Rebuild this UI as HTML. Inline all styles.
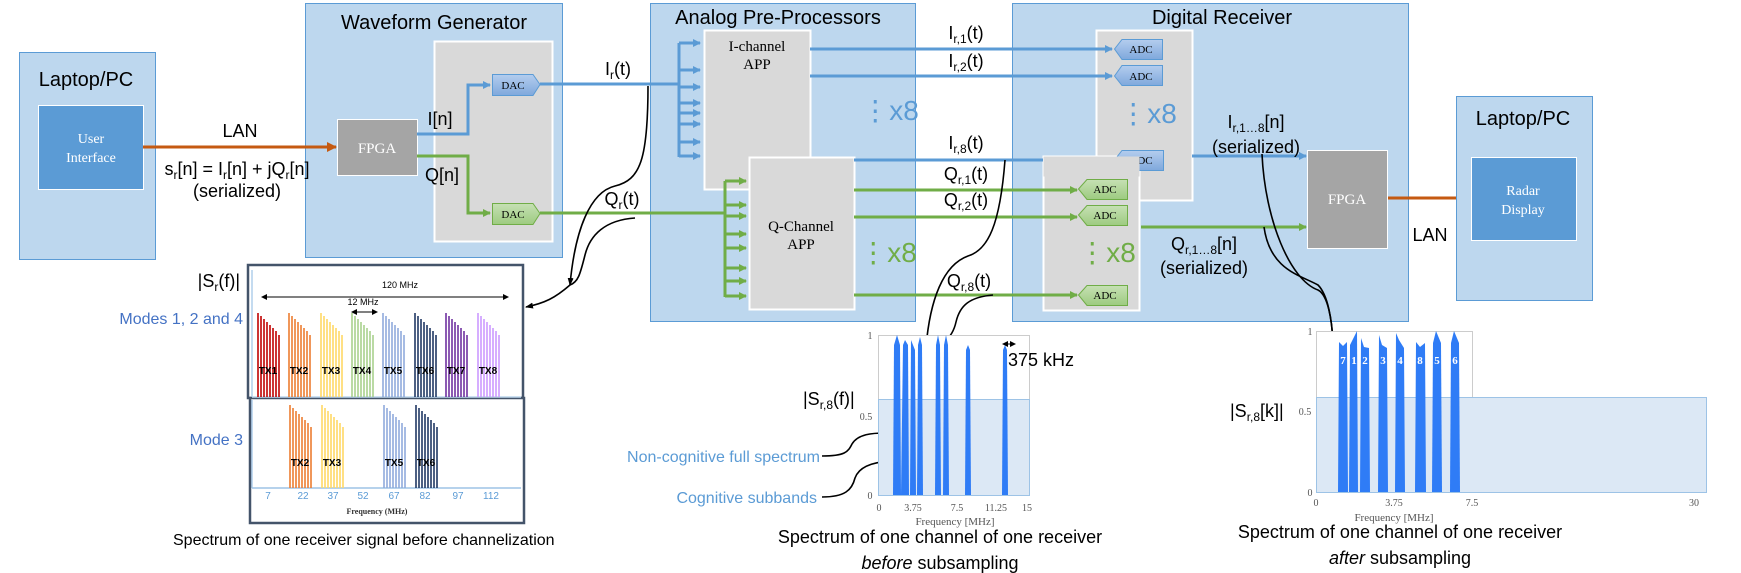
<!DOCTYPE html>
<html><head><meta charset="utf-8"><style>
html,body{margin:0;padding:0;background:#fff}
svg{display:block}
text{font-family:"Liberation Sans",sans-serif}
.s,.s text,text.s{font-family:"Liberation Serif",serif}
</style></head><body>
<svg width="1741" height="573" viewBox="0 0 1741 573" xmlns="http://www.w3.org/2000/svg">
<defs>
<marker id="ab" markerWidth="8" markerHeight="8" refX="7" refY="4" orient="auto" markerUnits="userSpaceOnUse"><path d="M0,0 L8,4 L0,8 z" fill="#5b9bd5"/></marker>
<marker id="ag" markerWidth="8" markerHeight="8" refX="7" refY="4" orient="auto" markerUnits="userSpaceOnUse"><path d="M0,0 L8,4 L0,8 z" fill="#70ad47"/></marker>
<marker id="ao" markerWidth="10" markerHeight="10" refX="9" refY="5" orient="auto" markerUnits="userSpaceOnUse"><path d="M0,0 L10,5 L0,10 z" fill="#c55a11"/></marker>
<marker id="ak" markerWidth="8" markerHeight="8" refX="7" refY="4" orient="auto" markerUnits="userSpaceOnUse"><path d="M0,1 L8,4 L0,7 z" fill="#000"/></marker>
<marker id="akk" markerWidth="6" markerHeight="6" refX="5" refY="3" orient="auto-start-reverse" markerUnits="userSpaceOnUse"><path d="M0,0 L6,3 L0,6 z" fill="#000"/></marker>
<linearGradient id="gb" x1="0" y1="0" x2="0" y2="1"><stop offset="0" stop-color="#b4cdee"/><stop offset="1" stop-color="#7fa8dc"/></linearGradient>
<linearGradient id="gg" x1="0" y1="0" x2="0" y2="1"><stop offset="0" stop-color="#c6e0b4"/><stop offset="1" stop-color="#9dcb80"/></linearGradient>
</defs>

<rect x="19.5" y="52.5" width="136" height="207" fill="#bdd7ee" stroke="#5b9bd5"/>
<text x="86" y="86" font-size="20" text-anchor="middle">Laptop/PC</text>
<rect x="38.5" y="105.5" width="105" height="84" fill="#5b9bd5" stroke="#fff"/>
<text class="s" x="91" y="143" font-size="14" fill="#fff" text-anchor="middle">User</text>
<text class="s" x="91" y="162" font-size="14" fill="#fff" text-anchor="middle">Interface</text>

<rect x="305.5" y="3.5" width="257" height="254" fill="#bdd7ee" stroke="#5b9bd5"/>
<text x="434" y="29" font-size="20" text-anchor="middle">Waveform Generator</text>
<rect x="434.5" y="41.5" width="118" height="200" fill="#d9d9d9" stroke="#fff" stroke-width="2"/>
<rect x="337.5" y="119.5" width="80" height="56" fill="#a5a5a5" stroke="#fff"/>
<text class="s" x="377" y="153" font-size="15" fill="#fff" text-anchor="middle">FPGA</text>
<line x1="143" y1="147" x2="336" y2="147" stroke="#c55a11" stroke-width="3" marker-end="url(#ao)"/>
<text x="240" y="137" font-size="18" text-anchor="middle">LAN</text>
<text x="237" y="175" font-size="18" text-anchor="middle">s<tspan font-size="12" dy="4">r</tspan><tspan dy="-4">[n] = I</tspan><tspan font-size="12" dy="4">r</tspan><tspan dy="-4">[n] + jQ</tspan><tspan font-size="12" dy="4">r</tspan><tspan dy="-4">[n]</tspan></text>
<text x="237" y="197" font-size="18" text-anchor="middle">(serialized)</text>
<polyline points="417,134 468,134 468,85 490,85" fill="none" stroke="#5b9bd5" stroke-width="3" marker-end="url(#ab)"/>
<polyline points="417,156 468,156 468,213 490,213" fill="none" stroke="#70ad47" stroke-width="3" marker-end="url(#ag)"/>
<text x="440" y="125" font-size="18" text-anchor="middle">I[n]</text>
<text x="442" y="181" font-size="18" text-anchor="middle">Q[n]</text>
<polygon points="492.5,74.5 533,74.5 540,84.5 533,95.5 492.5,95.5" fill="url(#gb)" stroke="#5b9bd5"/>
<text class="s" x="513" y="89" font-size="11" text-anchor="middle">DAC</text>
<polygon points="492.5,203.5 533,203.5 540,213.5 533,224.5 492.5,224.5" fill="url(#gg)" stroke="#70ad47"/>
<text class="s" x="513" y="218" font-size="11" text-anchor="middle">DAC</text>

<rect x="650.5" y="3.5" width="265" height="318" fill="#bdd7ee" stroke="#5b9bd5"/>
<text x="778" y="24" font-size="20" text-anchor="middle">Analog Pre-Processors</text>
<rect x="704.5" y="30.5" width="106" height="159" fill="#d9d9d9" stroke="#fff" stroke-width="2"/>
<text class="s" x="757" y="51" font-size="15" text-anchor="middle">I-channel</text>
<text class="s" x="757" y="69" font-size="15" text-anchor="middle">APP</text>
<rect x="749.5" y="157.5" width="105" height="152" fill="#d9d9d9" stroke="#fff" stroke-width="2"/>
<text class="s" x="801" y="231" font-size="15" text-anchor="middle">Q-Channel</text>
<text class="s" x="801" y="249" font-size="15" text-anchor="middle">APP</text>
<line x1="540" y1="84" x2="679" y2="84" stroke="#5b9bd5" stroke-width="3"/>
<line x1="679" y1="43" x2="679" y2="157" stroke="#5b9bd5" stroke-width="3"/>
<g stroke="#5b9bd5" stroke-width="3" marker-end="url(#ab)">
<line x1="679" y1="43" x2="700" y2="43"/><line x1="679" y1="70" x2="700" y2="70"/><line x1="679" y1="87" x2="700" y2="87"/><line x1="679" y1="103" x2="700" y2="103"/><line x1="679" y1="113" x2="700" y2="113"/><line x1="679" y1="124" x2="700" y2="124"/><line x1="679" y1="142" x2="700" y2="142"/><line x1="679" y1="156" x2="700" y2="156"/>
</g>
<text x="618" y="75" font-size="18" text-anchor="middle">I<tspan font-size="12" dy="4">r</tspan><tspan dy="-4">(t)</tspan></text>
<line x1="540" y1="213" x2="725" y2="213" stroke="#70ad47" stroke-width="3"/>
<line x1="725" y1="181" x2="725" y2="297" stroke="#70ad47" stroke-width="3"/>
<g stroke="#70ad47" stroke-width="3" marker-end="url(#ag)">
<line x1="725" y1="181" x2="746" y2="181"/><line x1="725" y1="205" x2="746" y2="205"/><line x1="725" y1="216" x2="746" y2="216"/><line x1="725" y1="234" x2="746" y2="234"/><line x1="725" y1="248" x2="746" y2="248"/><line x1="725" y1="268" x2="746" y2="268"/><line x1="725" y1="281" x2="746" y2="281"/><line x1="725" y1="296" x2="746" y2="296"/>
</g>
<text x="622" y="205" font-size="18" text-anchor="middle">Q<tspan font-size="12" dy="4">r</tspan><tspan dy="-4">(t)</tspan></text>
<text x="890" y="120" font-size="28" fill="#5b9bd5" text-anchor="middle">⋮x8</text>
<text x="888" y="262" font-size="28" fill="#70ad47" text-anchor="middle">⋮x8</text>

<rect x="1012.5" y="3.5" width="396" height="318" fill="#bdd7ee" stroke="#5b9bd5"/>
<text x="1222" y="24" font-size="20" text-anchor="middle">Digital Receiver</text>
<rect x="1096.5" y="30.5" width="96" height="170" fill="#d9d9d9" stroke="#fff" stroke-width="2"/>
<rect x="1043.5" y="156.5" width="96" height="154" fill="#d9d9d9" stroke="#fff" stroke-width="2"/>
<text x="1148" y="123" font-size="28" fill="#5b9bd5" text-anchor="middle">⋮x8</text>
<text x="1107" y="262" font-size="28" fill="#70ad47" text-anchor="middle">⋮x8</text>

<g stroke="#5b9bd5" stroke-width="3">
<line x1="810" y1="49" x2="1112" y2="49" marker-end="url(#ab)"/>
<line x1="810" y1="76" x2="1112" y2="76" marker-end="url(#ab)"/>
<line x1="854" y1="160" x2="1043" y2="160"/>
</g>
<g stroke="#70ad47" stroke-width="3">
<line x1="854" y1="190" x2="1077" y2="190" marker-end="url(#ag)"/>
<line x1="854" y1="217" x2="1077" y2="217" marker-end="url(#ag)"/>
<line x1="854" y1="295" x2="1077" y2="295" marker-end="url(#ag)"/>
</g>
<g font-size="18" text-anchor="middle">
<text x="966" y="39">I<tspan font-size="12" dy="4">r,1</tspan><tspan dy="-4">(t)</tspan></text>
<text x="966" y="67">I<tspan font-size="12" dy="4">r,2</tspan><tspan dy="-4">(t)</tspan></text>
<text x="966" y="149">I<tspan font-size="12" dy="4">r,8</tspan><tspan dy="-4">(t)</tspan></text>
<text x="966" y="180">Q<tspan font-size="12" dy="4">r,1</tspan><tspan dy="-4">(t)</tspan></text>
<text x="966" y="206">Q<tspan font-size="12" dy="4">r,2</tspan><tspan dy="-4">(t)</tspan></text>
<text x="969" y="287">Q<tspan font-size="12" dy="4">r,8</tspan><tspan dy="-4">(t)</tspan></text>
</g>
<g class="s" font-size="11" text-anchor="middle">
<polygon points="1114.5,49 1122,39.5 1162.5,39.5 1162.5,59.5 1122,59.5" fill="url(#gb)" stroke="#5b9bd5"/><text x="1141" y="53">ADC</text>
<polygon points="1114.5,76 1122,65.5 1162.5,65.5 1162.5,85.5 1122,85.5" fill="url(#gb)" stroke="#5b9bd5"/><text x="1141" y="80">ADC</text>
<polygon points="1114.5,160 1122,150.5 1163.5,150.5 1163.5,170.5 1122,170.5" fill="url(#gb)" stroke="#5b9bd5"/><text x="1141" y="164">ADC</text>
<rect x="1043.5" y="156.5" width="96" height="20" fill="#d9d9d9"/>
<polygon points="1078.5,189 1087,179.5 1127.5,179.5 1127.5,199.5 1087,199.5" fill="url(#gg)" stroke="#70ad47"/><text x="1105" y="193">ADC</text>
<polygon points="1078.5,215 1087,205.5 1127.5,205.5 1127.5,225.5 1087,225.5" fill="url(#gg)" stroke="#70ad47"/><text x="1105" y="219">ADC</text>
<polygon points="1078.5,295 1087,285.5 1127.5,285.5 1127.5,305.5 1087,305.5" fill="url(#gg)" stroke="#70ad47"/><text x="1105" y="299">ADC</text>
</g>

<line x1="1192" y1="156" x2="1306" y2="156" stroke="#5b9bd5" stroke-width="3" marker-end="url(#ab)"/>
<line x1="1141" y1="227" x2="1306" y2="227" stroke="#70ad47" stroke-width="3" marker-end="url(#ag)"/>
<text x="1256" y="128" font-size="18" text-anchor="middle">I<tspan font-size="12" dy="4">r,1…8</tspan><tspan dy="-4">[n]</tspan></text>
<text x="1256" y="153" font-size="18" text-anchor="middle">(serialized)</text>
<text x="1204" y="250" font-size="18" text-anchor="middle">Q<tspan font-size="12" dy="4">r,1…8</tspan><tspan dy="-4">[n]</tspan></text>
<text x="1204" y="274" font-size="18" text-anchor="middle">(serialized)</text>
<rect x="1307.5" y="150.5" width="80" height="98" fill="#a5a5a5" stroke="#fff"/>
<text class="s" x="1347" y="204" font-size="15" fill="#fff" text-anchor="middle">FPGA</text>
<line x1="1388" y1="198" x2="1470" y2="198" stroke="#c55a11" stroke-width="3" marker-end="url(#ao)"/>
<text x="1430" y="241" font-size="18" text-anchor="middle">LAN</text>

<rect x="1456.5" y="96.5" width="136" height="204" fill="#bdd7ee" stroke="#5b9bd5"/>
<text x="1523" y="125" font-size="20" text-anchor="middle">Laptop/PC</text>
<rect x="1471.5" y="157.5" width="105" height="83" fill="#5b9bd5" stroke="#fff"/>
<text class="s" x="1523" y="195" font-size="14" fill="#fff" text-anchor="middle">Radar</text>
<text class="s" x="1523" y="214" font-size="14" fill="#fff" text-anchor="middle">Display</text>

<g fill="none" stroke="#000" stroke-width="1.6">
<path d="M648,86 C648,160 640,180 615,186 C590,192 575,230 570,285" marker-end="url(#ak)"/>
<path d="M635,218 C605,220 590,235 585,255 C580,275 578,282 570,285 C555,298 545,303 526,307" marker-end="url(#ak)"/>
<path d="M1005,160 C1000,225 988,250 968,256 C943,265 930,300 926,347" marker-end="url(#ak)"/>
<path d="M993,295 C970,297 960,305 956,322 C952,340 940,346 928,349"/>
<path d="M1262,154 C1265,220 1290,280 1318,290 C1328,295 1332,320 1333,343" marker-end="url(#ak)"/>
<path d="M1264,227 C1270,270 1300,275 1318,285 C1328,295 1332,320 1333,343"/>
<path d="M822,456 C845,456 848,452 852,444 C858,434 872,433 886,433" marker-end="url(#ak)"/>
<path d="M822,497 C845,497 852,490 855,478 C860,464 880,461 897,461" marker-end="url(#ak)"/>
</g>

<rect x="248" y="265" width="275" height="133" fill="#fff" stroke="#44546a" stroke-width="2.5"/>
<rect x="250" y="398" width="274" height="125" fill="#fff" stroke="#44546a" stroke-width="2.5"/>
<line x1="252" y1="270" x2="252" y2="397" stroke="#9dc3e6" stroke-width="1.2"/>
<line x1="252" y1="397" x2="521" y2="397" stroke="#bdd7ee" stroke-width="1.5"/>
<line x1="252" y1="400" x2="252" y2="488" stroke="#9dc3e6" stroke-width="1.2"/>
<line x1="252" y1="488" x2="521" y2="488" stroke="#9dc3e6" stroke-width="1.5"/>
<line x1="262" y1="297" x2="508" y2="297" stroke="#000" stroke-width="1" marker-start="url(#akk)" marker-end="url(#akk)"/>
<text x="400" y="288" font-size="9" text-anchor="middle">120 MHz</text>
<line x1="352" y1="312" x2="377" y2="312" stroke="#000" stroke-width="1" marker-start="url(#akk)" marker-end="url(#akk)"/>
<text x="363" y="305" font-size="9" text-anchor="middle">12 MHz</text>

<g stroke-width="1.6">
<g stroke="#c00000"><line x1="258" y1="397" x2="258" y2="313"/><line x1="261" y1="397" x2="261" y2="316"/><line x1="264" y1="397" x2="264" y2="319"/><line x1="267" y1="397" x2="267" y2="322"/><line x1="270" y1="397" x2="270" y2="325"/><line x1="273" y1="397" x2="273" y2="328"/><line x1="276" y1="397" x2="276" y2="331"/><line x1="279" y1="397" x2="279" y2="335"/></g>
<g stroke="#ed7d31"><line x1="289" y1="397" x2="289" y2="313"/><line x1="292" y1="397" x2="292" y2="316"/><line x1="295" y1="397" x2="295" y2="319"/><line x1="298" y1="397" x2="298" y2="322"/><line x1="301" y1="397" x2="301" y2="325"/><line x1="304" y1="397" x2="304" y2="328"/><line x1="307" y1="397" x2="307" y2="331"/><line x1="310" y1="397" x2="310" y2="335"/></g>
<g stroke="#ffd966"><line x1="321" y1="397" x2="321" y2="313"/><line x1="324" y1="397" x2="324" y2="316"/><line x1="327" y1="397" x2="327" y2="319"/><line x1="330" y1="397" x2="330" y2="322"/><line x1="333" y1="397" x2="333" y2="325"/><line x1="336" y1="397" x2="336" y2="328"/><line x1="339" y1="397" x2="339" y2="331"/><line x1="342" y1="397" x2="342" y2="335"/></g>
<g stroke="#a9d18e"><line x1="352" y1="397" x2="352" y2="313"/><line x1="355" y1="397" x2="355" y2="316"/><line x1="358" y1="397" x2="358" y2="319"/><line x1="361" y1="397" x2="361" y2="322"/><line x1="364" y1="397" x2="364" y2="325"/><line x1="367" y1="397" x2="367" y2="328"/><line x1="370" y1="397" x2="370" y2="331"/><line x1="373" y1="397" x2="373" y2="335"/></g>
<g stroke="#8faadc"><line x1="383" y1="397" x2="383" y2="313"/><line x1="386" y1="397" x2="386" y2="316"/><line x1="389" y1="397" x2="389" y2="319"/><line x1="392" y1="397" x2="392" y2="322"/><line x1="395" y1="397" x2="395" y2="325"/><line x1="398" y1="397" x2="398" y2="328"/><line x1="401" y1="397" x2="401" y2="331"/><line x1="404" y1="397" x2="404" y2="335"/></g>
<g stroke="#203864"><line x1="415" y1="397" x2="415" y2="313"/><line x1="418" y1="397" x2="418" y2="316"/><line x1="421" y1="397" x2="421" y2="319"/><line x1="424" y1="397" x2="424" y2="322"/><line x1="427" y1="397" x2="427" y2="325"/><line x1="430" y1="397" x2="430" y2="328"/><line x1="433" y1="397" x2="433" y2="331"/><line x1="436" y1="397" x2="436" y2="335"/></g>
<g stroke="#7030a0"><line x1="446" y1="397" x2="446" y2="313"/><line x1="449" y1="397" x2="449" y2="316"/><line x1="452" y1="397" x2="452" y2="319"/><line x1="455" y1="397" x2="455" y2="322"/><line x1="458" y1="397" x2="458" y2="325"/><line x1="461" y1="397" x2="461" y2="328"/><line x1="464" y1="397" x2="464" y2="331"/><line x1="467" y1="397" x2="467" y2="335"/></g>
<g stroke="#cc99ff"><line x1="478" y1="397" x2="478" y2="313"/><line x1="481" y1="397" x2="481" y2="316"/><line x1="484" y1="397" x2="484" y2="319"/><line x1="487" y1="397" x2="487" y2="322"/><line x1="490" y1="397" x2="490" y2="325"/><line x1="493" y1="397" x2="493" y2="328"/><line x1="496" y1="397" x2="496" y2="331"/><line x1="499" y1="397" x2="499" y2="335"/></g>
<g stroke="#ed7d31"><line x1="290" y1="488" x2="290" y2="405"/><line x1="293" y1="488" x2="293" y2="408"/><line x1="296" y1="488" x2="296" y2="411"/><line x1="299" y1="488" x2="299" y2="414"/><line x1="302" y1="488" x2="302" y2="417"/><line x1="305" y1="488" x2="305" y2="420"/><line x1="308" y1="488" x2="308" y2="423"/><line x1="311" y1="488" x2="311" y2="427"/></g>
<g stroke="#ffd966"><line x1="322" y1="488" x2="322" y2="405"/><line x1="325" y1="488" x2="325" y2="408"/><line x1="328" y1="488" x2="328" y2="411"/><line x1="331" y1="488" x2="331" y2="414"/><line x1="334" y1="488" x2="334" y2="417"/><line x1="337" y1="488" x2="337" y2="420"/><line x1="340" y1="488" x2="340" y2="423"/><line x1="343" y1="488" x2="343" y2="427"/></g>
<g stroke="#8faadc"><line x1="384" y1="488" x2="384" y2="405"/><line x1="387" y1="488" x2="387" y2="408"/><line x1="390" y1="488" x2="390" y2="411"/><line x1="393" y1="488" x2="393" y2="414"/><line x1="396" y1="488" x2="396" y2="417"/><line x1="399" y1="488" x2="399" y2="420"/><line x1="402" y1="488" x2="402" y2="423"/><line x1="405" y1="488" x2="405" y2="427"/></g>
<g stroke="#203864"><line x1="416" y1="488" x2="416" y2="405"/><line x1="419" y1="488" x2="419" y2="408"/><line x1="422" y1="488" x2="422" y2="411"/><line x1="425" y1="488" x2="425" y2="414"/><line x1="428" y1="488" x2="428" y2="417"/><line x1="431" y1="488" x2="431" y2="420"/><line x1="434" y1="488" x2="434" y2="423"/><line x1="437" y1="488" x2="437" y2="427"/></g>
</g>
<g font-size="10" font-weight="bold" text-anchor="middle" fill="#000">
<text x="268" y="374">TX1</text><text x="299" y="374">TX2</text><text x="331" y="374">TX3</text><text x="362" y="374">TX4</text><text x="393" y="374">TX5</text><text x="425" y="374">TX6</text><text x="456" y="374">TX7</text><text x="488" y="374">TX8</text>
<text x="300" y="466">TX2</text><text x="332" y="466">TX3</text><text x="394" y="466">TX5</text><text x="426" y="466">TX6</text>
</g>
<g font-size="10" fill="#5b9bd5" text-anchor="middle">
<text x="268" y="499">7</text><text x="303" y="499">22</text><text x="333" y="499">37</text><text x="363" y="499">52</text><text x="394" y="499">67</text><text x="425" y="499">82</text><text x="458" y="499">97</text><text x="491" y="499">112</text>
</g>
<text class="s" x="377" y="514" font-size="8" font-weight="bold" text-anchor="middle" fill="#333">Frequency (MHz)</text>
<text x="240" y="287" font-size="18" text-anchor="end">|S<tspan font-size="12" dy="4">r</tspan><tspan dy="-4">(f)|</tspan></text>
<text x="243" y="324" font-size="16" fill="#4472c4" text-anchor="end">Modes 1, 2 and 4</text>
<text x="243" y="445" font-size="16" fill="#4472c4" text-anchor="end">Mode 3</text>
<text x="173" y="545" font-size="16">Spectrum of one receiver signal before channelization</text>

<rect x="878.5" y="335.5" width="151" height="160" fill="#fff" stroke="#ccc"/>
<rect x="878.5" y="399.5" width="151" height="96" fill="#dce8f5" stroke="#9dc3e6"/>
<g fill="#2f7cf6">
<path d="M893,495 L894,345 L897,335 L900,345 L901,495z"/>
<path d="M901,495 L903,345 L905,340 L908,345 L909,495z"/>
<path d="M910,495 L911,340 L913,345 L915,350 L916,495z"/>
<path d="M917,495 L918,345 L920,337 L922,345 L923,495z"/>
<path d="M935,495 L936,345 L938,335 L940,345 L941,495z"/>
<path d="M943,495 L944,345 L946,335 L948,345 L949,495z"/>
<path d="M965,495 L966,350 L968,345 L970,350 L971,495z"/>
<path d="M1002,495 L1003,350 L1005,345 L1007,350 L1008,495z"/>
</g>
<g class="s" font-size="10" fill="#555" text-anchor="middle">
<text x="870" y="339">1</text><text x="866" y="420">0.5</text><text x="870" y="499">0</text>
<text x="879" y="511">0</text><text x="913" y="511">3.75</text><text x="957" y="511">7.5</text><text x="996" y="511">11.25</text><text x="1027" y="511">15</text>
<text x="955" y="525" font-size="11">Frequency [MHz]</text>
</g>
<line x1="1003" y1="344" x2="1015" y2="344" stroke="#000" stroke-width="1" marker-start="url(#akk)" marker-end="url(#akk)"/>
<text x="1008" y="366" font-size="18">375 kHz</text>
<text x="803" y="405" font-size="18">|S<tspan font-size="12" dy="4">r,8</tspan><tspan dy="-4">(f)|</tspan></text>
<text x="820" y="462" font-size="16" fill="#5b9bd5" text-anchor="end">Non-cognitive full spectrum</text>
<text x="817" y="503" font-size="16" fill="#5b9bd5" text-anchor="end">Cognitive subbands</text>
<text x="940" y="543" font-size="18" text-anchor="middle">Spectrum of one channel of one receiver</text>
<text x="940" y="569" font-size="18" text-anchor="middle"><tspan font-style="italic">before</tspan> subsampling</text>

<rect x="1316.5" y="331.5" width="156" height="161" fill="#fff" stroke="#ccc"/>
<rect x="1316.5" y="397.5" width="390" height="95" fill="#dce8f5" stroke="#9dc3e6"/>
<g fill="#2f7cf6">
<path d="M1338,492 L1339,342 L1343,346 L1347,342 L1348,492z"/>
<path d="M1349,492 L1350,345 L1357,331 L1358,492z"/>
<path d="M1360,492 L1361,338 L1364,347 L1369,348 L1370,492z"/>
<path d="M1378,492 L1379,335 L1382,345 L1387,348 L1388,492z"/>
<path d="M1395,492 L1396,333 L1399,340 L1404,348 L1405,492z"/>
<path d="M1415,492 L1416,342 L1420,347 L1425,343 L1426,492z"/>
<path d="M1432,492 L1433,343 L1436,331 L1441,343 L1442,492z"/>
<path d="M1450,492 L1451,343 L1454,331 L1459,343 L1460,492z"/>
</g>
<g class="s" font-size="11" font-weight="bold" fill="#fff" text-anchor="middle">
<text x="1343" y="364">7</text><text x="1354" y="364">1</text><text x="1365" y="364">2</text><text x="1383" y="364">3</text><text x="1400" y="364">4</text><text x="1420" y="364">8</text><text x="1437" y="364">5</text><text x="1455" y="364">6</text>
</g>
<g class="s" font-size="10" fill="#555" text-anchor="middle">
<text x="1310" y="335">1</text><text x="1305" y="415">0.5</text><text x="1310" y="496">0</text>
<text x="1316" y="506">0</text><text x="1394" y="506">3.75</text><text x="1472" y="506">7.5</text><text x="1694" y="506">30</text>
<text x="1394" y="521" font-size="11">Frequency [MHz]</text>
</g>
<text x="1230" y="417" font-size="18">|S<tspan font-size="12" dy="4">r,8</tspan><tspan dy="-4">[k]|</tspan></text>
<text x="1400" y="538" font-size="18" text-anchor="middle">Spectrum of one channel of one receiver</text>
<text x="1400" y="564" font-size="18" text-anchor="middle"><tspan font-style="italic">after</tspan> subsampling</text>
</svg>
</body></html>
